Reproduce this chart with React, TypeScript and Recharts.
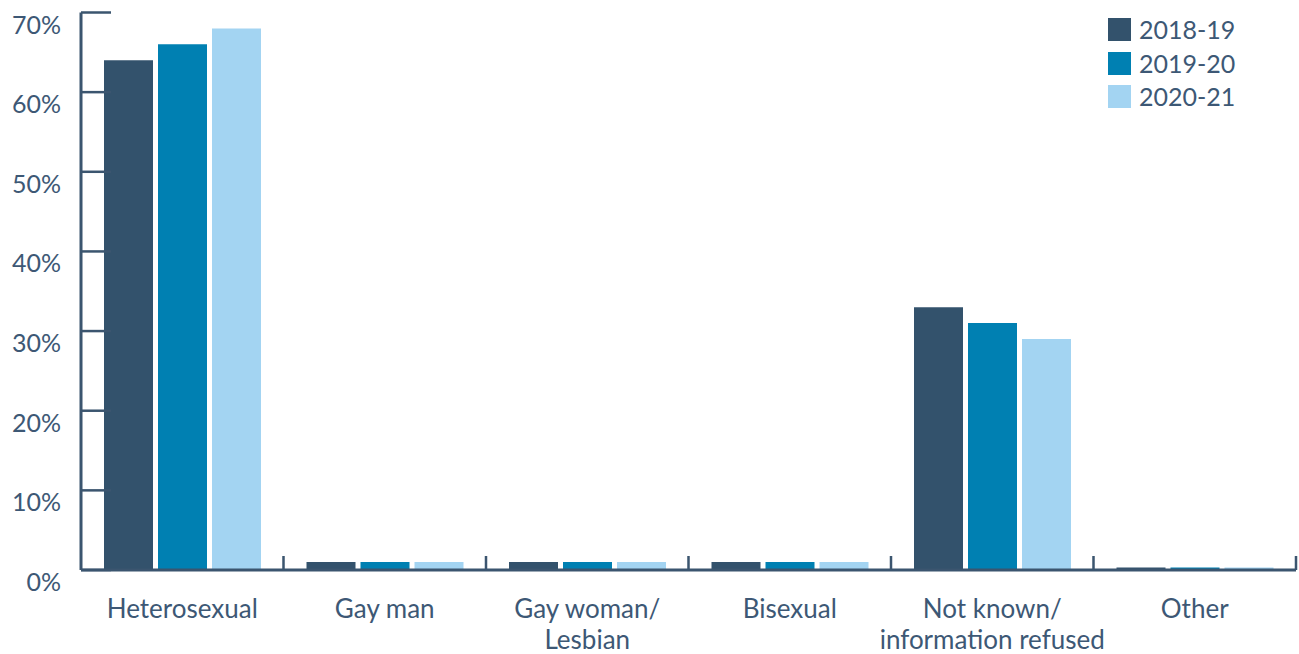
import React from "react";
import { BarChart, Bar, XAxis, YAxis } from "recharts";

const categories = [
  "Heterosexual",
  "Gay man",
  "Gay woman/\nLesbian",
  "Bisexual",
  "Not known/\ninformation refused",
  "Other",
];
const series2018 = [64, 1, 1, 1, 33, 0.3];
const series2019 = [66, 1, 1, 1, 31, 0.3];
const series2020 = [68, 1, 1, 1, 29, 0.3];
const yTicks = [0, 10, 20, 30, 40, 50, 60, 70];
const seriesNames = ["2018-19", "2019-20", "2020-21"];
const colors = ["#33526c", "#0080b2", "#a3d4f2"];

const data = categories.map((c, i) => ({
  name: c,
  s1: series2018[i],
  s2: series2019[i],
  s3: series2020[i],
}));

const TEXT = "#3d5875";
const AXIS = "#3b556f";
const FONT = "Lato, 'Open Sans', sans-serif";

const YTick = (props: any) => {
  const { x, y, payload } = props;
  return (
    <g>
      <rect x={x + 20} y={y - 1.25} width={30} height={2.5} fill={AXIS} />
      <text x={x} y={y} dy={21} textAnchor="end" fill={TEXT} fontSize={25} fontFamily={FONT}>
        {payload.value}%
      </text>
    </g>
  );
};

const XTick = (props: any) => {
  const { x, y, payload, width, visibleTicksCount, index } = props;
  const half =
    payload && typeof payload.offset === "number" && payload.offset > 0
      ? payload.offset
      : width / visibleTicksCount / 2;
  const lines = String(payload.value).split("\n");
  const isLast = index === visibleTicksCount - 1;
  return (
    <g>
      {index > 0 && <rect x={x - half - 1.25} y={y - 14} width={2.5} height={14} fill={AXIS} />}
      {isLast && <rect x={x + half - 1.25} y={y - 14} width={2.5} height={14} fill={AXIS} />}
      <text x={x} y={y} textAnchor="middle" fill={TEXT} fontSize={26} fontFamily={FONT}>
        {lines.map((l: string, i: number) => (
          <tspan key={i} x={x} y={y + 48 + i * 31}>
            {l}
          </tspan>
        ))}
      </text>
    </g>
  );
};

const LegendBox = () => (
  <div
    style={{
      position: "absolute",
      left: 1108,
      top: 13,
      fontFamily: FONT,
      fontSize: 25,
      color: TEXT,
    }}
  >
    {seriesNames.map((n, i) => (
      <div key={n} style={{ display: "flex", alignItems: "center", height: 33.5 }}>
        <div style={{ width: 23, height: 23, background: colors[i], marginRight: 8 }} />
        <span style={{ lineHeight: "23px" }}>{n}</span>
      </div>
    ))}
  </div>
);

export default function App() {
  return (
    <div style={{ position: "absolute", left: 0, top: 0, width: 1299, height: 654, background: "#fff" }}>
      <BarChart
        width={1299}
        height={654}
        data={data}
        margin={{ top: 12.5, right: 3, bottom: 0, left: 0 }}
        barGap={5}
        barSize={49}
      >
        <XAxis
          dataKey="name"
          type="category"
          height={84}
          axisLine={{ stroke: AXIS, strokeWidth: 3 }}
          tickLine={false}
          tickSize={0}
          tickMargin={0}
          interval={0}
          tick={<XTick />}
        />
        <YAxis
          width={81}
          domain={[0, 70]}
          ticks={yTicks}
          tickSize={0}
          tickMargin={20}
          interval={0}
          tickLine={false}
          axisLine={{ stroke: AXIS, strokeWidth: 3 }}
          tick={<YTick />}
        />
        <Bar dataKey="s1" name={seriesNames[0]} fill={colors[0]} isAnimationActive={false} />
        <Bar dataKey="s2" name={seriesNames[1]} fill={colors[1]} isAnimationActive={false} />
        <Bar dataKey="s3" name={seriesNames[2]} fill={colors[2]} isAnimationActive={false} />
      </BarChart>
      <LegendBox />
    </div>
  );
}
